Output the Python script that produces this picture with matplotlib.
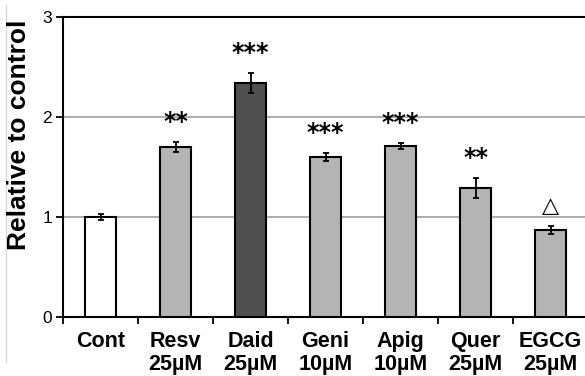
import numpy as np
import matplotlib.pyplot as plt
from matplotlib.lines import Line2D

plt.rcParams['font.family'] = ['Liberation Sans', 'DejaVu Sans']

# data
categories = ['Cont\n', 'Resv\n25µM', 'Daid\n25µM', 'Geni\n10µM',
              'Apig\n10µM', 'Quer\n25µM', 'EGCG\n25µM']
values = [1.00, 1.70, 2.34, 1.60, 1.71, 1.29, 0.87]
errors = [0.03, 0.05, 0.10, 0.04, 0.03, 0.10, 0.04]
marks = ['', '**', '***', '***', '***', '**', '\u25B3']
colors = ['white', '#b4b4b4', '#4f4f4f', '#b4b4b4', '#b4b4b4', '#b4b4b4', '#b4b4b4']

W, H = 585, 376
fig = plt.figure(figsize=(W / 100, H / 100), dpi=100)
# plot area in pixels: x 63..588, y 17..317
ax = fig.add_axes([63 / W, (H - 317) / H, 525 / W, 300 / H])

x = np.arange(len(values)) + 0.5
ax.bar(x, values, width=0.41, color=colors, edgecolor='black', linewidth=1.5,
       yerr=errors, error_kw=dict(ecolor='black', elinewidth=1.3, capsize=2.5,
                                  capthick=1.3), zorder=3)

for xi, v, e, m in zip(x, values, errors, marks):
    if not m:
        continue
    if m == '**' or m == '***':
        ax.text(xi, v + e + 0.08, m, ha='center', va='bottom', fontsize=17,
                family='DejaVu Sans', fontweight='bold')
    else:
        ax.text(xi, v + e + 0.10, m, ha='center', va='bottom', fontsize=16,
                family='DejaVu Sans', fontweight='bold')

ax.set_xlim(0, len(values))
ax.set_ylim(0, 3)
ax.set_yticks([0, 1, 2, 3])
ax.set_yticklabels(['0', '1', '2', '3'], fontsize=12.5)
ax.yaxis.grid(True, color='#a0a0a0', linewidth=1.2, zorder=0)
ax.set_axisbelow(True)

ax.set_xticks(np.arange(len(values) + 1))
ax.set_xticklabels([])
ax.set_xticks(x, minor=True)
ax.set_xticklabels(categories, minor=True, fontsize=15.5, fontweight='bold',
                   linespacing=1.15)
ax.tick_params(axis='x', which='minor', length=0, pad=10)
ax.tick_params(axis='x', which='major', direction='out', length=5, width=1.3)
ax.tick_params(axis='y', direction='out', length=5, width=1.3, pad=3)

for s in ax.spines.values():
    s.set_linewidth(1.5)
    s.set_color('black')

fig.text(19 / W, 1 - 135 / H, 'Relative to control', rotation=90, ha='center',
         va='center', fontsize=19, fontweight='bold')

fig.add_artist(Line2D([6 / W, 6 / W], [1 - 5 / H, 1 - 362 / H],
                      transform=fig.transFigure, color='#d8d8d8', linewidth=1))

fig.savefig('out.png', dpi=100)
